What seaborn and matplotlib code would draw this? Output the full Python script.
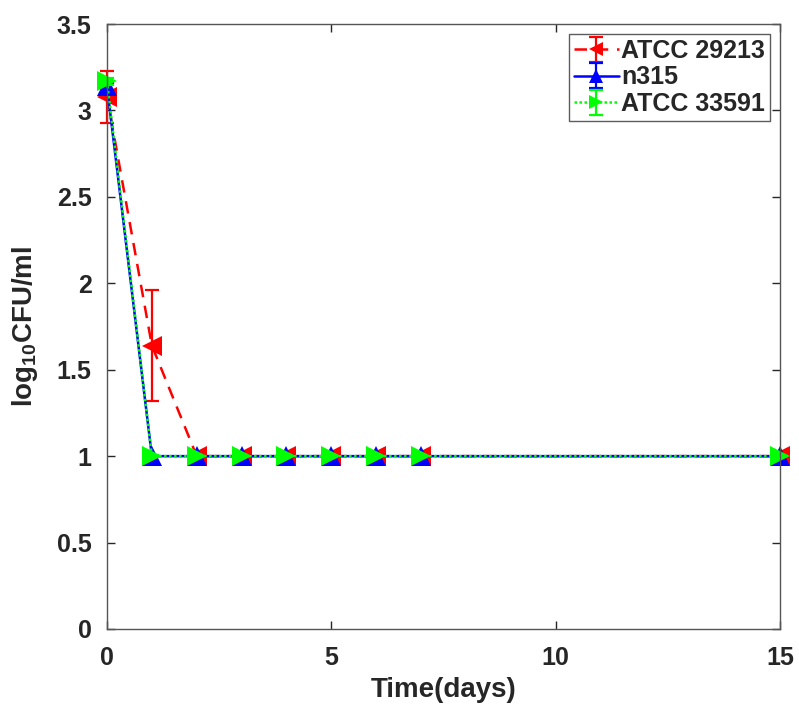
import matplotlib
matplotlib.use("Agg")
import matplotlib.pyplot as plt
import pandas as pd
import seaborn as sns

# Sampling days and measured log10 CFU/ml for each strain
days = [0, 1, 2, 3, 4, 5, 6, 7, 15]
strains = ["ATCC 29213", "n315", "ATCC 33591"]
atcc29213 = [3.08, 1.64, 1.0, 1.0, 1.0, 1.0, 1.0, 1.0, 1.0]
atcc29213_sd = [0.15, 0.32, 0, 0, 0, 0, 0, 0, 0]
n315 = [3.14, 1.0, 1.0, 1.0, 1.0, 1.0, 1.0, 1.0, 1.0]
n315_sd = [0.02, 0, 0, 0, 0, 0, 0, 0, 0]
atcc33591 = [3.17, 1.0, 1.0, 1.0, 1.0, 1.0, 1.0, 1.0, 1.0]
atcc33591_sd = [0.02, 0, 0, 0, 0, 0, 0, 0, 0]

x_ticks = [0, 5, 10, 15]
y_ticks = [0, 0.5, 1, 1.5, 2, 2.5, 3, 3.5]
y_tick_labels = ["0", "0.5", "1", "1.5", "2", "2.5", "3", "3.5"]

sns.set_style("ticks")
plt.rcParams["font.family"] = ["Liberation Sans", "DejaVu Sans"]
plt.rcParams["font.weight"] = "bold"
plt.rcParams["mathtext.fontset"] = "custom"
plt.rcParams["mathtext.rm"] = "Liberation Sans:bold"
plt.rcParams["mathtext.bf"] = "Liberation Sans:bold"
plt.rcParams["mathtext.default"] = "bf"

df = pd.DataFrame({
    "day": days * 3,
    "value": atcc29213 + n315 + atcc33591,
    "sd": atcc29213_sd + n315_sd + atcc33591_sd,
    "strain": [s for s in strains for _ in days],
})

colors = {"ATCC 29213": "#FF0000", "n315": "#0000FF", "ATCC 33591": "#00FF00"}
markers = {"ATCC 29213": "<", "n315": "^", "ATCC 33591": ">"}
styles = {"ATCC 29213": (0, (5, 3.5)), "n315": "-", "ATCC 33591": (0, (1, 1))}

fig = plt.figure(figsize=(7.99, 7.07), dpi=100)
ax = fig.add_axes([107 / 799, 1 - 629 / 707, (780 - 107) / 799, (629 - 24) / 707])

handles = []
for s in strains:
    sub = df[df["strain"] == s]
    before = len(ax.lines)
    sns.lineplot(data=sub, x="day", y="value", ax=ax, color=colors[s],
                 marker=markers[s], markersize=14, markeredgewidth=0,
                 linewidth=1.8, legend=False, errorbar=None)
    line = ax.lines[before]
    line.set_linestyle(styles[s])
    line.set_clip_on(False)
    eb = ax.errorbar(sub["day"], sub["value"], yerr=sub["sd"], fmt="none",
                     ecolor=colors[s], elinewidth=1.6, capsize=5, capthick=1.6)
    for art in eb.lines[1] + eb.lines[2]:
        art.set_clip_on(False)
    handles.append((line, eb))

ax.set_xlim(0, 15)
ax.set_ylim(0, 3.5)
ax.set_xticks(x_ticks)
ax.set_yticks(y_ticks)
ax.set_xticklabels([str(t) for t in x_ticks])
ax.set_yticklabels(y_tick_labels)
ax.tick_params(direction="in", top=True, right=True, length=6, width=1,
               labelsize=18, colors="#262626")
ax.tick_params(axis="x", pad=12)
ax.tick_params(axis="y", pad=11)
for lab in ax.get_xticklabels() + ax.get_yticklabels():
    lab.set_fontweight("bold")
    lab.set_color("#262626")
for sp in ax.spines.values():
    sp.set_visible(True)
    sp.set_color("#555555")
    sp.set_linewidth(1.0)

ax.set_xlabel("Time(days)", fontsize=20, fontweight="bold",
              color="#262626", labelpad=5)
ax.set_ylabel(r"log$_{10}$CFU/ml", fontsize=20, fontweight="bold",
              color="#262626", labelpad=12)

leg = ax.legend(handles, strains, loc="upper right", fontsize=18,
                frameon=True, fancybox=False, handlelength=1.8,
                handletextpad=0.1, borderpad=0.2, labelspacing=0.1,
                borderaxespad=0.4, markerscale=0.7)
leg.get_frame().set_edgecolor("#333333")
leg.get_frame().set_linewidth(1.0)
for t in leg.get_texts():
    t.set_fontweight("bold")

fig.savefig("out.png", dpi=100)
